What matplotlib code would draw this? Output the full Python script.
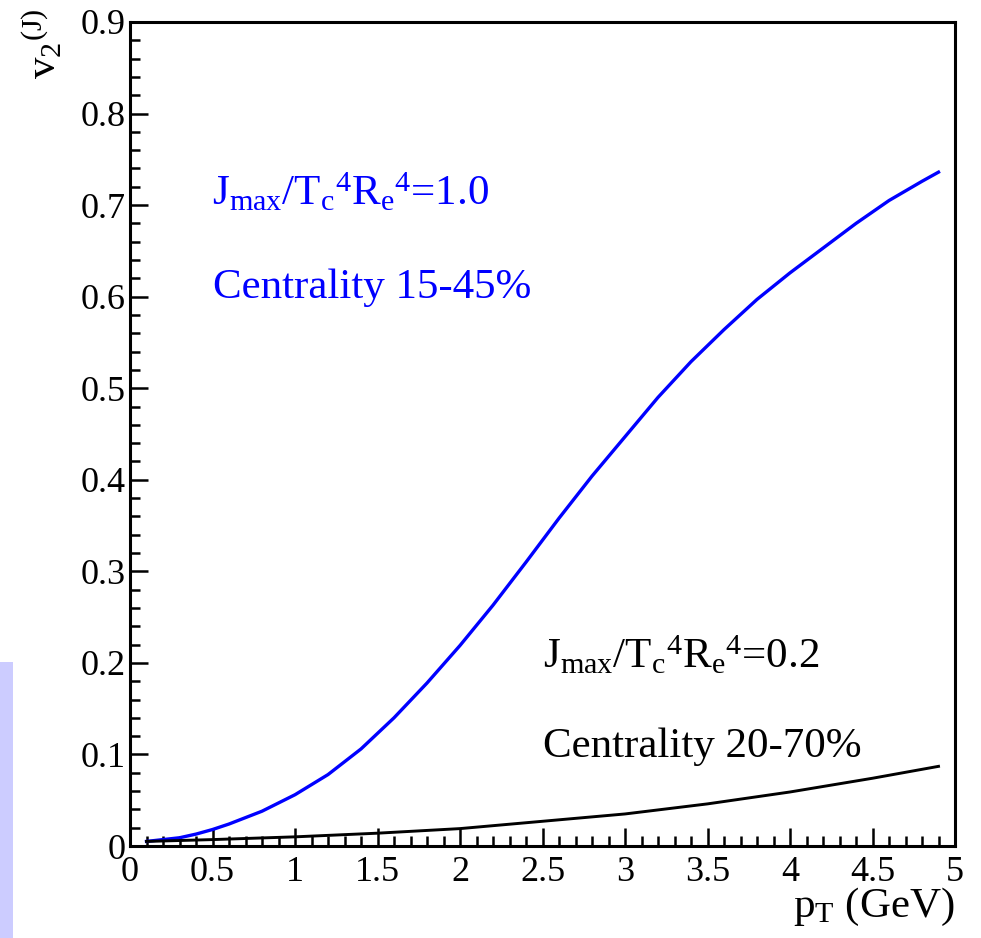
import matplotlib
matplotlib.use('Agg')
import matplotlib.pyplot as plt
from matplotlib.patches import Rectangle
from matplotlib.ticker import MultipleLocator

# pT grid and v2 values for the two parameter sets
pt_blue = [0.1, 0.2, 0.3, 0.4, 0.5, 0.6, 0.7, 0.8, 0.9, 1.0, 1.2, 1.4, 1.6, 1.8,
           2.0, 2.2, 2.4, 2.6, 2.8, 3.0, 3.2, 3.4, 3.6, 3.8, 4.0, 4.2, 4.4, 4.6,
           4.8, 4.9]
v2_blue = [0.005, 0.007, 0.009, 0.013, 0.018, 0.024, 0.031, 0.038, 0.047, 0.056,
           0.078, 0.106, 0.140, 0.178, 0.219, 0.263, 0.310, 0.358, 0.404, 0.447,
           0.490, 0.529, 0.564, 0.597, 0.626, 0.653, 0.680, 0.705, 0.726, 0.736]

pt_black = [0.1, 0.5, 1.0, 1.5, 2.0, 2.5, 3.0, 3.5, 4.0, 4.5, 4.9]
v2_black = [0.005, 0.007, 0.010, 0.014, 0.019, 0.027, 0.035, 0.046, 0.059, 0.074, 0.087]

plt.rcParams['font.family'] = ['Liberation Serif', 'DejaVu Serif']
plt.rcParams['mathtext.fontset'] = 'custom'
plt.rcParams['mathtext.rm'] = 'Liberation Serif'
plt.rcParams['mathtext.it'] = 'Liberation Serif:italic'

W, H = 981, 938
fig = plt.figure(figsize=(W / 100, H / 100), dpi=100)
ax = fig.add_axes([130 / W, (H - 846) / H, 825 / W, 824 / H])

ax.plot(pt_blue, v2_blue, color='#0000ff', lw=2.4)
ax.plot(pt_black, v2_black, color='black', lw=2.1)

ax.set_xlim(0, 5)
ax.set_ylim(0, 0.9)
ax.xaxis.set_major_locator(MultipleLocator(0.5))
ax.xaxis.set_minor_locator(MultipleLocator(0.1))
ax.yaxis.set_major_locator(MultipleLocator(0.1))
ax.yaxis.set_minor_locator(MultipleLocator(0.02))
ax.xaxis.set_major_formatter(plt.FuncFormatter(lambda v, p: f'{v:g}'))
ax.yaxis.set_major_formatter(plt.FuncFormatter(lambda v, p: f'{v:g}'))

ax.tick_params(which='both', direction='in', top=False, right=False, width=1.8,
               labelsize=26, colors='black')
ax.tick_params(which='major', length=13)
ax.tick_params(which='minor', length=7)
ax.tick_params(axis='x', pad=7)
ax.tick_params(axis='y', pad=3)
for s in ax.spines.values():
    s.set_linewidth(2.2)

# axis titles, ROOT style at the corners
fig.text(955 / W, 1 - 917 / H, r'p$_{\mathrm{T}}$ (GeV)', ha='right', va='baseline', fontsize=31)
fig.text(64 / W, 1 - 8 / H, r'v$_{2}$$^{\mathrm{(J)}}$', rotation=90, ha='right', va='top', fontsize=31)

fig.text(212 / W, 1 - 205 / H,
         r'J$_{\mathrm{max}}$/T$_{\mathrm{c}}$$^{4}$R$_{\mathrm{e}}$$^{4}$=1.0',
         color='#0000ff', fontsize=31, va='baseline')
fig.text(213 / W, 1 - 298 / H, 'Centrality 15-45%', color='#0000ff', fontsize=31, va='baseline')
fig.text(543 / W, 1 - 668 / H,
         r'J$_{\mathrm{max}}$/T$_{\mathrm{c}}$$^{4}$R$_{\mathrm{e}}$$^{4}$=0.2',
         color='black', fontsize=31, va='baseline')
fig.text(543 / W, 1 - 757 / H, 'Centrality 20-70%', color='black', fontsize=31, va='baseline')

# lavender strip at the lower left edge
fig.patches.append(Rectangle((0, 0), 13 / W, (H - 662) / H, transform=fig.transFigure,
                             facecolor='#ccccff', edgecolor='none', figure=fig))

fig.savefig('out.png', dpi=100)
